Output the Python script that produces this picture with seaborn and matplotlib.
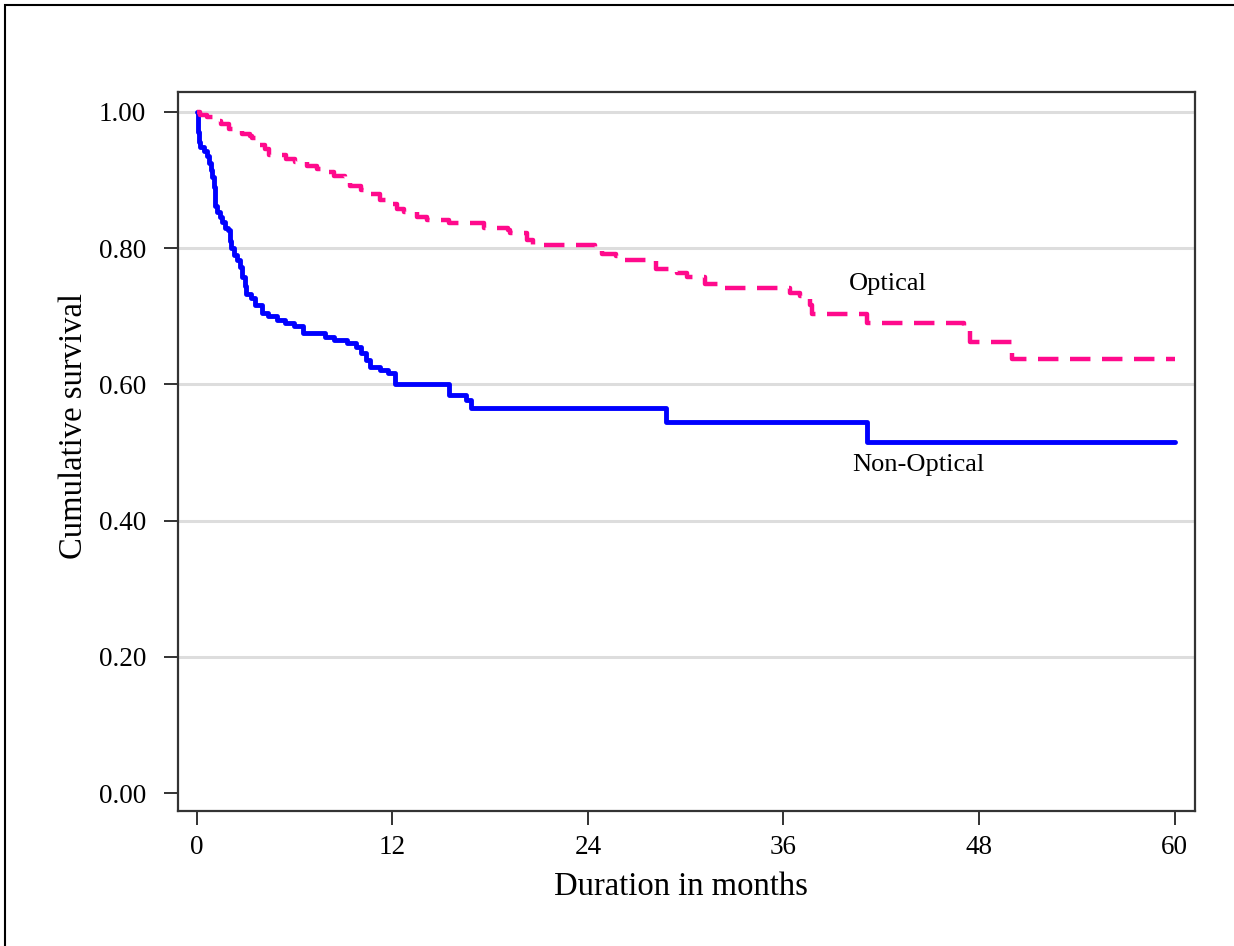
import numpy as np
import pandas as pd
import matplotlib
matplotlib.use("Agg")
import matplotlib.pyplot as plt
from matplotlib.patches import Rectangle
import seaborn as sns

# ---- data ----
non_optical_t = [0, 0.05, 0.1, 0.15, 0.2, 0.45, 0.6, 0.75, 0.85, 0.95,
                 1.05, 1.1, 1.15, 1.25, 1.4, 1.55, 1.75, 1.9, 2.05, 2.1,
                 2.3, 2.5, 2.65, 2.8, 2.95, 3.05, 3.3, 3.55, 4.0, 4.4,
                 4.9, 5.4, 5.95, 6.55, 7.9, 8.4, 9.2, 9.8, 10.1, 10.4,
                 10.6, 11.25, 11.75, 12.15, 15.45, 16.55, 16.8, 28.8, 41.15, 60]
non_optical_s = [1.0, 0.985, 0.97, 0.955, 0.948, 0.943, 0.935, 0.925, 0.915, 0.905,
                 0.89, 0.875, 0.862, 0.853, 0.845, 0.838, 0.830, 0.826, 0.81, 0.80,
                 0.79, 0.782, 0.772, 0.758, 0.745, 0.733, 0.727, 0.716, 0.705, 0.700,
                 0.695, 0.690, 0.685, 0.676, 0.670, 0.665, 0.661, 0.655, 0.646, 0.636,
                 0.626, 0.621, 0.616, 0.601, 0.584, 0.577, 0.566, 0.545, 0.516, 0.516]

optical_t = [0, 0.2, 0.6, 1.0, 1.5, 2.0, 2.75, 3.25, 3.4, 3.8,
             4.2, 4.45, 5.5, 6.0, 6.75, 7.35, 8.0, 8.4, 9.1, 9.4,
             10.1, 10.7, 11.25, 11.8, 12.3, 12.7, 13.5, 14.1, 15.45, 17.6,
             19.1, 19.25, 20.25, 20.65, 24.45, 24.85, 25.75, 26.0, 28.2, 29.45,
             30.05, 31.2, 32.1, 36.4, 37.0, 37.6, 37.75, 41.1, 47.1, 47.45,
             50.0, 60]
optical_s = [1.0, 0.995, 0.992, 0.987, 0.982, 0.975, 0.968, 0.965, 0.961, 0.951,
             0.945, 0.937, 0.931, 0.927, 0.921, 0.916, 0.912, 0.906, 0.897, 0.891,
             0.885, 0.879, 0.870, 0.864, 0.858, 0.853, 0.846, 0.841, 0.837, 0.829,
             0.826, 0.822, 0.812, 0.804, 0.797, 0.792, 0.789, 0.782, 0.770, 0.764,
             0.758, 0.748, 0.741, 0.734, 0.729, 0.716, 0.703, 0.690, 0.680, 0.662,
             0.637, 0.637]

x_ticks = [0, 12, 24, 36, 48, 60]
y_ticks = [0.0, 0.2, 0.4, 0.6, 0.8, 1.0]
y_tick_labels = ["0.00", "0.20", "0.40", "0.60", "0.80", "1.00"]
grid_levels = [0.2, 0.4, 0.6, 0.8, 1.0]

# ---- style ----
sns.set_style("white")
plt.rcParams["font.family"] = ["Liberation Serif", "DejaVu Serif"]
plt.rcParams["text.color"] = "black"
plt.rcParams["axes.labelcolor"] = "black"
plt.rcParams["xtick.color"] = "black"
plt.rcParams["ytick.color"] = "black"

fig = plt.figure(figsize=(12.34, 9.46), dpi=100)
ax = fig.add_axes([178 / 1234, 1 - 811 / 946, (1195 - 178) / 1234, (811 - 92) / 946])

# outer frame (left & top visible)
fig.patches.append(Rectangle((5 / 1234, -0.1), 1.2, 1.1 - 5 / 946,
                             transform=fig.transFigure, fill=False,
                             edgecolor="black", linewidth=1.5, zorder=0))

for g in grid_levels:
    ax.axhline(g, color="#dddddd", linewidth=2.2, zorder=0)

df_non = pd.DataFrame({"t": non_optical_t, "s": non_optical_s})
df_opt = pd.DataFrame({"t": optical_t, "s": optical_s})

sns.lineplot(data=df_non, x="t", y="s", ax=ax, estimator=None, sort=False,
             drawstyle="steps-post", color="#0000ff", linewidth=3.5, zorder=3)
sns.lineplot(data=df_opt, x="t", y="s", ax=ax, estimator=None, sort=False,
             drawstyle="steps-post", color="#ff0a8c", linewidth=3.2,
             linestyle=(0, (4.6, 2.6)), zorder=3)

ax.text(40.0, 0.747, "Optical", fontsize=19, va="center", ha="left")
ax.text(40.2, 0.482, "Non-Optical", fontsize=19, va="center", ha="left")

ax.set_xlim(-1.15, 61.25)
ax.set_ylim(-0.026, 1.029)
ax.set_xticks(x_ticks)
ax.set_yticks(y_ticks)
ax.set_yticklabels(y_tick_labels)
ax.tick_params(axis="both", which="major", direction="out", length=10,
               width=1.3, color="#222222", labelsize=19.5, bottom=True, left=True)
ax.tick_params(axis="y", pad=13)
ax.tick_params(axis="x", pad=7)

for sp in ax.spines.values():
    sp.set_color("#333333")
    sp.set_linewidth(1.6)
    sp.set_visible(True)

ax.set_xlabel("Duration in months", fontsize=23.5)
ax.set_ylabel("Cumulative survival", fontsize=23.5)
ax.xaxis.set_label_coords(0.4946, -0.084)
ax.yaxis.set_label_coords(-0.088, 0.535)

fig.savefig("out.png", dpi=100, facecolor="white")
